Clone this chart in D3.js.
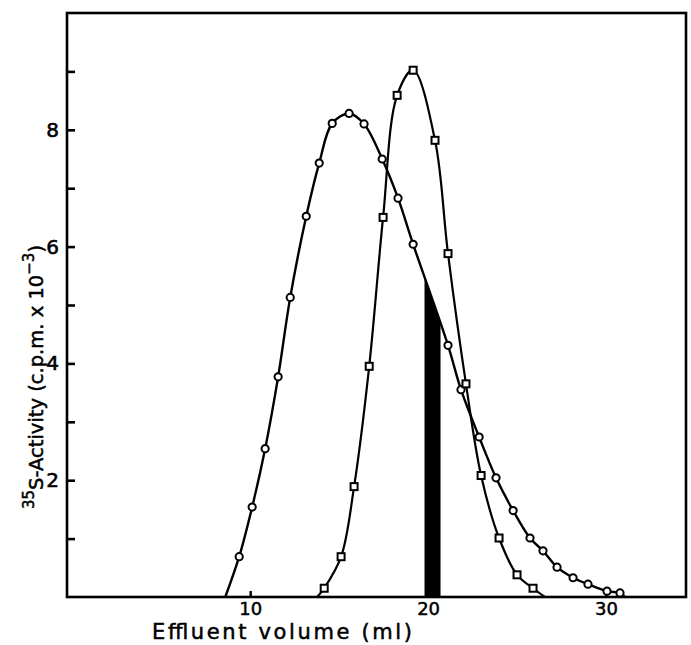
<!DOCTYPE html>
<html>
<head>
<meta charset="utf-8">
<script src="https://cdn.jsdelivr.net/npm/d3@7"></script>
<style>
	body { margin: 0; background: white; }
	text { font-family: "DejaVu Sans", sans-serif; fill: black; }
</style>
</head>
<body>
<svg id="chart" width="691" height="645"></svg>
<script>
//****************************************************************************************************************************//
// Data

// open circles
var circleVolume   = [8.60, 9.38, 10.11, 10.84, 11.57, 12.25, 13.15, 13.88, 14.61, 15.56, 16.40, 17.42, 18.31, 19.16,
                      21.12, 21.85, 22.87, 23.82, 24.78, 25.73, 26.46, 27.25, 28.15, 28.99, 30.06, 30.79, 31.07];
var circleActivity = [0, 0.69, 1.54, 2.54, 3.77, 5.13, 6.52, 7.43, 8.11, 8.28, 8.10, 7.50, 6.83, 6.04,
                      4.31, 3.55, 2.74, 2.04, 1.48, 1.01, 0.79, 0.51, 0.33, 0.22, 0.10, 0.07, 0];

// open squares
var squareVolume   = [13.76, 14.16, 15.11, 15.84, 16.69, 17.47, 18.26, 19.16, 20.39, 21.12, 22.13, 22.98, 23.99, 25.00, 25.90, 26.57];
var squareActivity = [0, 0.15, 0.69, 1.89, 3.95, 6.50, 8.59, 9.02, 7.82, 5.88, 3.65, 2.08, 1.01, 0.38, 0.15, 0];

// black shaded fraction (ml)
var shadedFraction = [19.8, 20.7];

var xTickValues = [10, 20, 30];
var yTickValues = [1, 2, 3, 4, 5, 6, 7, 8, 9];
var yTickLabels = [2, 4, 6, 8];

//****************************************************************************************************************************//
// Canvas

var width = 691, height = 645;
var plotLeft = 67, plotRight = 686, plotTop = 13, plotBottom = 597;

var canvas = d3.select("#chart");

var xScale = d3.scaleLinear()
				.domain([-0.3, 34.5])
				.range([plotLeft, plotRight]);

var yScale = d3.scaleLinear()
				.domain([0, 10])
				.range([plotBottom, plotTop]);

function toPoints(xs, ys){
	return xs.map(function(v, i){ return {x : v, y : ys[i]}; });
}
var circleData = toPoints(circleVolume, circleActivity);
var squareData = toPoints(squareVolume, squareActivity);

//****************************************************************************************************************************//
// Shaded fraction : area under the circle curve, clipped to the fraction

canvas.append("clipPath")
		.attr("id", "fractionClip")
		.append("rect")
		.attr("x", xScale(shadedFraction[0]))
		.attr("y", plotTop)
		.attr("width", xScale(shadedFraction[1]) - xScale(shadedFraction[0]))
		.attr("height", plotBottom - plotTop);

var area = d3.area()
			.x(function(d){ return xScale(d.x); })
			.y0(yScale(0))
			.y1(function(d){ return yScale(d.y); })
			.curve(d3.curveCatmullRom.alpha(0.5));

canvas.append("path")
		.attr("d", area(circleData))
		.attr("fill", "black")
		.attr("clip-path", "url(#fractionClip)");

//****************************************************************************************************************************//
// Curves

var line = d3.line()
			.x(function(d){ return xScale(d.x); })
			.y(function(d){ return yScale(d.y); })
			.curve(d3.curveCatmullRom.alpha(0.5));

canvas.append("path")
		.attr("d", line(circleData))
		.attr("fill", "none")
		.attr("stroke", "black")
		.attr("stroke-width", 2.4);

canvas.append("path")
		.attr("d", line(squareData))
		.attr("fill", "none")
		.attr("stroke", "black")
		.attr("stroke-width", 2.2);

//****************************************************************************************************************************//
// Frame and axes

canvas.append("rect")
		.attr("x", plotLeft)
		.attr("y", plotTop)
		.attr("width", plotRight - plotLeft)
		.attr("height", plotBottom - plotTop)
		.attr("fill", "none")
		.attr("stroke", "black")
		.attr("stroke-width", 2.6);

var yAxis = d3.axisLeft(yScale)
				.tickValues(yTickValues)
				.tickSize(-8)
				.tickSizeOuter(0)
				.tickPadding(8)
				.tickFormat(function(d){ return yTickLabels.indexOf(d) >= 0 ? d : ""; });

var yAxisGroup = canvas.append("g")
						.attr("transform", "translate(" + plotLeft + ",0)")
						.call(yAxis);
yAxisGroup.select(".domain").remove();
yAxisGroup.selectAll("line").attr("stroke-width", 2.6);
yAxisGroup.selectAll("text")
			.style("font-size", "20px")
			.attr("font-family", null)
			.attr("stroke", "black")
			.attr("stroke-width", 0.6);

var xAxis = d3.axisBottom(xScale)
				.tickValues(xTickValues)
				.tickSize(-6)
				.tickSizeOuter(0)
				.tickPadding(5);

var xAxisGroup = canvas.append("g")
						.attr("transform", "translate(0," + plotBottom + ")")
						.call(xAxis);
xAxisGroup.select(".domain").remove();
xAxisGroup.selectAll("line").attr("stroke-width", 2.4);
xAxisGroup.selectAll("text")
			.style("font-size", "18px")
			.attr("font-family", null)
			.attr("stroke", "black")
			.attr("stroke-width", 0.5);

//****************************************************************************************************************************//
// Markers

canvas.selectAll(".circleMarker")
		.data(circleData.filter(function(d){ return d.y > 0; }))
		.enter()
		.append("circle")
		.attr("class", "circleMarker")
		.attr("cx", function(d){ return xScale(d.x); })
		.attr("cy", function(d){ return yScale(d.y); })
		.attr("r", 3.6)
		.attr("fill", "white")
		.attr("stroke", "black")
		.attr("stroke-width", 2);

canvas.selectAll(".squareMarker")
		.data(squareData.filter(function(d){ return d.y > 0; }))
		.enter()
		.append("rect")
		.attr("class", "squareMarker")
		.attr("x", function(d){ return xScale(d.x) - 3.5; })
		.attr("y", function(d){ return yScale(d.y) - 3.5; })
		.attr("width", 7)
		.attr("height", 7)
		.attr("fill", "white")
		.attr("stroke", "black")
		.attr("stroke-width", 2);

//****************************************************************************************************************************//
// Axis titles

canvas.append("text")
		.attr("x", 152)
		.attr("y", 639)
		.attr("textLength", 260)
		.attr("lengthAdjust", "spacing")
		.attr("stroke", "black")
		.attr("stroke-width", 0.5)
		.style("font-size", "21px")
		.text("Effluent volume (ml)");

var yTitle = canvas.append("text")
		.attr("transform", "translate(43,377) rotate(-90)")
		.attr("text-anchor", "middle")
		.attr("stroke", "black")
		.attr("stroke-width", 0.5)
		.style("font-size", "19.5px");

yTitle.append("tspan")
		.attr("baseline-shift", "super")
		.style("font-size", "15px")
		.text("35");
yTitle.append("tspan")
		.text("S-Activity (c.p.m. x 10");
yTitle.append("tspan")
		.attr("baseline-shift", "super")
		.style("font-size", "15px")
		.text("\u22123");
yTitle.append("tspan")
		.text(")");
</script>
</body>
</html>
